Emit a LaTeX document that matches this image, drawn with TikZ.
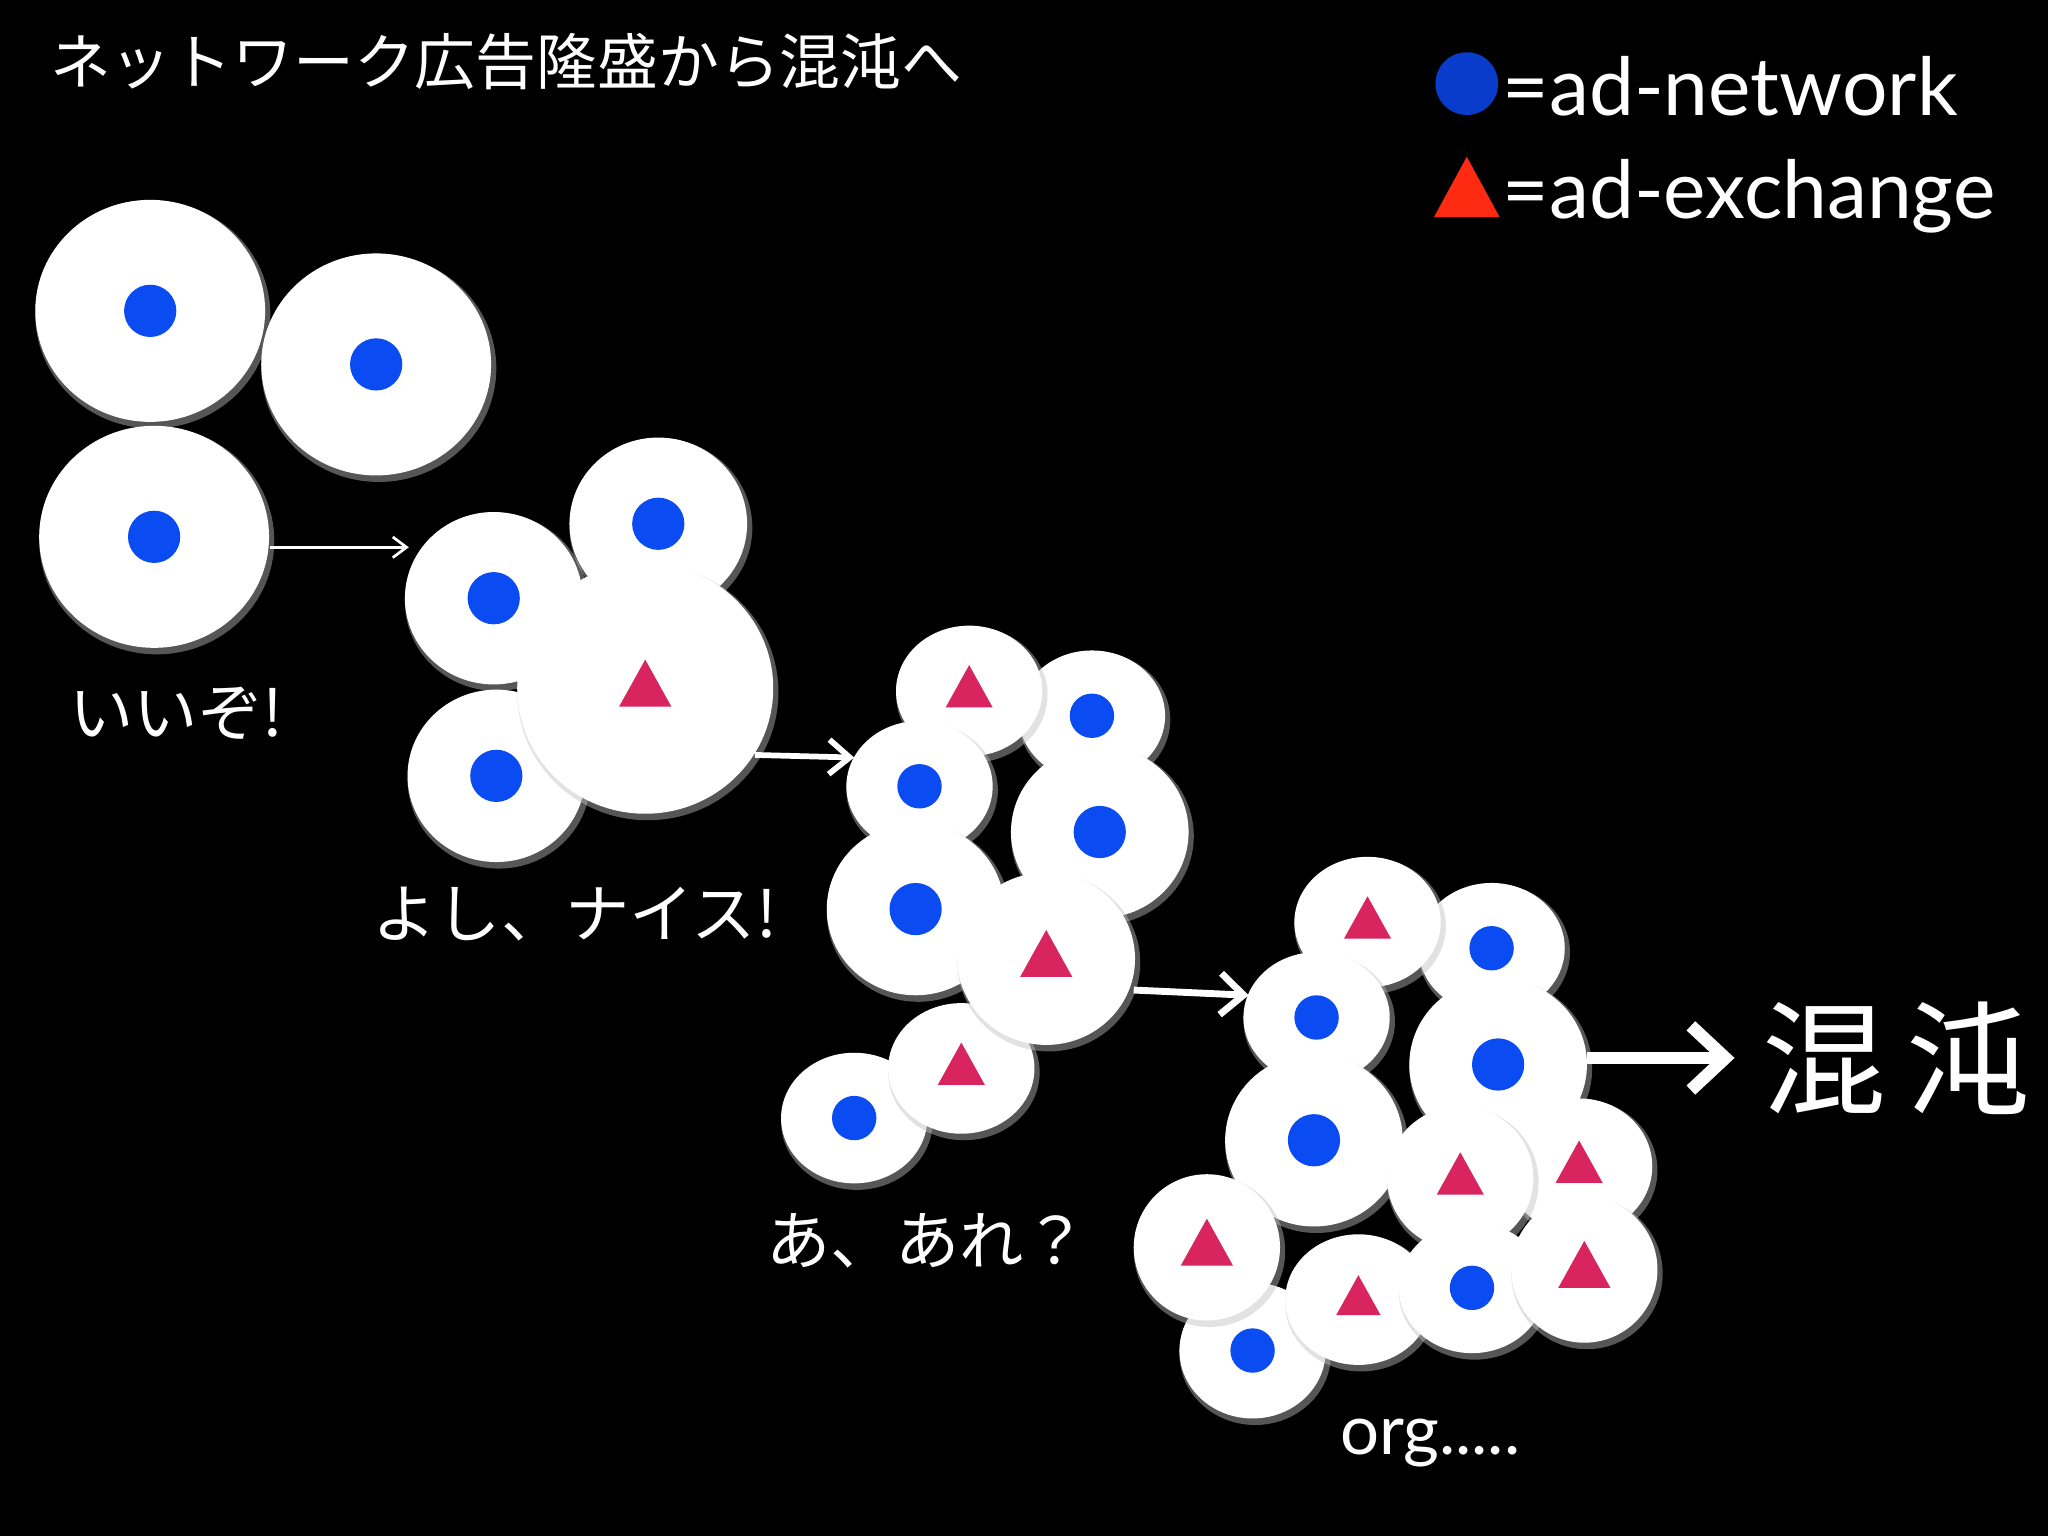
\documentclass[tikz,border=0pt]{standalone}
\usepackage{fontspec}
\setmainfont{Lato}
\newfontfamily\jp{Noto Sans CJK JP}
\usetikzlibrary{arrows.meta,calc}
\definecolor{dotblue}{HTML}{0A4CF2}
\definecolor{legblue}{HTML}{0A3CCC}
\definecolor{tri}{HTML}{D8245F}
\definecolor{legred}{HTML}{FF2A12}
\tikzset{
 x=0.02cm,y=-0.02cm,
 shd/.style={fill=black!25,opacity=0.45},
 cellw/.style={fill=white},
 bdot/.style={fill=dotblue},
 trimark/.style={fill=tri},
 lbl/.style={text=white,font=\jp\fontsize{28}{32}\selectfont,inner sep=0pt},
 thinarrow/.style={white,line width=1.2pt,-{Straight Barb[length=6pt,width=9pt]}},
}
\newcommand\cellN[5]{% name,x,y,rx,ry
 \fill[shd] (#2+2,#3+3) ellipse [x radius=#4*0.02cm+0.04cm,y radius=#5*0.02cm+0.04cm];
 \fill[cellw] (#2,#3) ellipse [x radius=#4*0.02cm,y radius=#5*0.02cm];
 \coordinate (#1) at (#2,#3);}
\newcommand\cellB[6]{\cellN{#1}{#2}{#3}{#4}{#5}\fill[bdot] (#1) circle [radius=#6*0.02cm];}
\newcommand\cellT[6]{\cellN{#1}{#2}{#3}{#4}{#5}\fill[trimark] ($(#1)+(0,-#6*1.1)$) -- ($(#1)+(#6,#6*0.7)$) -- ($(#1)+(-#6,#6*0.7)$) -- cycle;}
\begin{document}
\begin{tikzpicture}
\fill[black] (0,0) rectangle (1568,1176);
\useasboundingbox (0,0) rectangle (1568,1176);
\node[lbl,anchor=west,font=\jp\fontsize{26.5}{30}\selectfont] (title) at (38,47) {ネットワーク広告隆盛から混沌へ};
% legend
\fill[legblue] (1123,64) circle [radius=0.48cm];
\node[text=white,anchor=west,inner sep=0pt,font=\fontsize{35}{40}\selectfont] (l1) at (1150,66) {=ad-network};
\fill[legred] (1123,120) -- (1148,166) -- (1098,166) -- cycle;
\node[text=white,anchor=west,inner sep=0pt,font=\fontsize{35}{40}\selectfont] (l2) at (1150,150) {=ad-exchange};
% group 1
\cellB{a1}{115}{238}{88}{85}{20}
\cellB{a2}{288}{279}{88}{85}{20}
\cellB{a3}{118}{411}{88}{85}{20}
\coordinate (r1s) at (207,419); \coordinate (r1e) at (313,419);
\draw[thinarrow] (r1s) -- (r1e);
\node[lbl] (t1) at (135,546) {いいぞ!};
% group 2
\cellB{b2}{504}{401}{68}{66}{20}
\cellB{b1}{378}{458}{68}{66}{20}
\cellB{b3}{380}{594}{68}{66}{20}
\cellT{b4}{494}{527}{98}{96}{20}
\coordinate (r2s) at (578,578); \coordinate (r2e) at (654,580);
\draw[white,line width=2.5pt,-{Straight Barb[length=9pt,width=15pt]}] (r2s) -- (r2e);
\node[lbl] (t2) at (440,700) {よし、ナイス!};
% group 3
\cellB{c2}{836}{548}{56}{50}{17}
\cellT{c1}{742}{529}{56}{50}{18}
\cellB{c3}{704}{602}{56}{50}{17}
\cellB{c4}{842}{637}{68}{66}{20}
\cellB{c8}{654}{856}{56}{50}{17}
\cellB{c5}{701}{696}{68}{66}{20}
\cellT{c7}{736}{818}{56}{50}{18}
\cellT{c6}{801}{734}{68}{66}{20}
\coordinate (r3s) at (868,758); \coordinate (r3e) at (956,762);
\draw[white,line width=3pt,-{Straight Barb[length=10pt,width=18pt]}] (r3s) -- (r3e);
\node[lbl] (t3) at (710,950) {あ、あれ？};
% group 4
\cellB{d2}{1142}{726}{56}{50}{17}
\cellT{d1}{1047}{706}{56}{50}{18}
\cellB{d3}{1008}{779}{56}{50}{17}
\cellB{d4}{1147}{815}{68}{66}{20}
\cellB{d5}{1006}{873}{68}{66}{20}
\cellT{d7}{1209}{893}{56}{52}{18}
\cellT{d6}{1118}{902}{56}{55}{18}
\cellB{d12}{959}{1034}{56}{52}{17}
\cellT{d8}{924}{955}{56}{56}{20}
\cellT{d9}{1040}{995}{56}{50}{17}
\cellB{d10}{1127}{986}{56}{50}{17}
\cellT{d11}{1213}{972}{56}{56}{20}
\coordinate (r4s) at (1215,810); \coordinate (r4e) at (1328,810);
\draw[white,line width=5.5pt,-{Straight Barb[length=15pt,width=28pt]}] (r4s) -- (r4e);
\node[lbl,font=\jp\fontsize{54}{60}\selectfont] (t5) at (1452,810) {混\,沌};
\node[text=white,inner sep=0pt,font=\fontsize{30}{36}\selectfont] (t4) at (1095,1105) {org.....};
\end{tikzpicture}
\end{document}
